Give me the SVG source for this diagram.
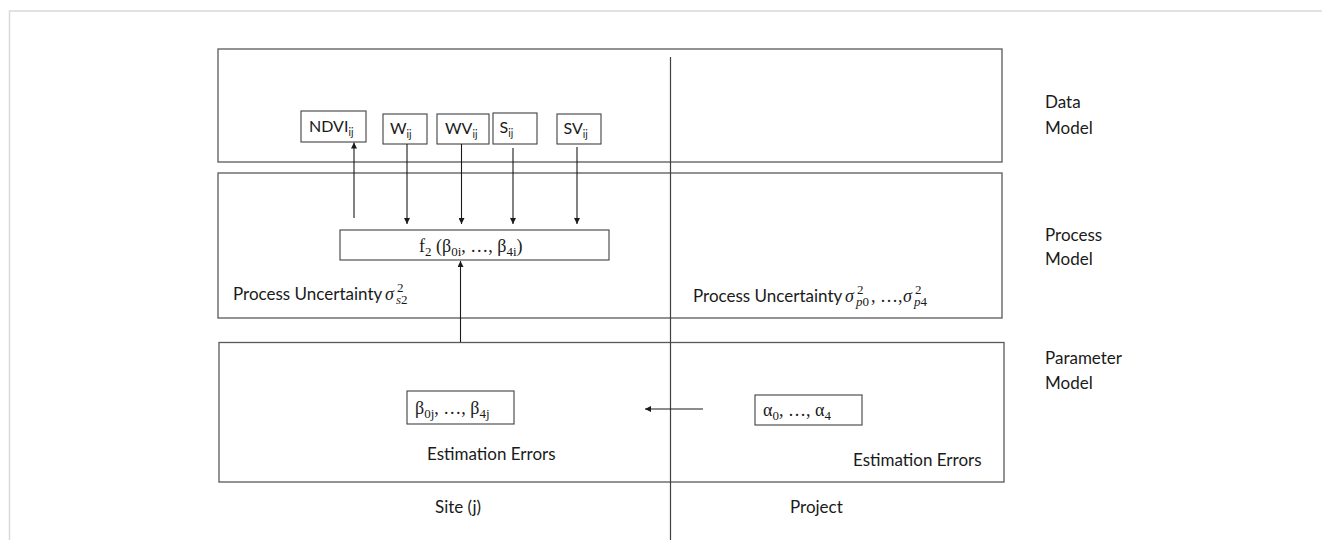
<svg xmlns="http://www.w3.org/2000/svg" width="1322" height="540" viewBox="0 0 1322 540">
  <style>
    .frame { fill: none; stroke: #d9d9d9; stroke-width: 1.5; }
    .panel { fill: none; stroke: #595959; stroke-width: 1.3; }
    .box { fill: #ffffff; stroke: #404040; stroke-width: 1.1; }
    .wire { fill: none; stroke: #1a1a1a; stroke-width: 1.1; }
    .lbl { font-family: Lato, "Open Sans", sans-serif; font-size: 17px; fill: #1a1a1a; }
    .node { font-family: Lato, "Open Sans", sans-serif; font-size: 16px; fill: #1a1a1a; }
    .math { font-family: "Liberation Serif", "DejaVu Serif", serif; font-size: 18px; fill: #1a1a1a; }
    .it { font-style: italic; }
    .up { font-style: normal; }
    .sm { font-size: 13px; }
  </style>
  <defs>
    <marker id="arrow" viewBox="0 0 8 8" refX="8" refY="4" markerWidth="6" markerHeight="6" markerUnits="userSpaceOnUse" orient="auto">
      <path d="M0,0 L8,4 L0,8 z" fill="#1a1a1a"/>
    </marker>
  </defs>

  <rect width="1322" height="540" fill="#ffffff"/>
  <!-- page frame -->
  <path class="frame" d="M9.5,540 V11 H1322"/>

  <!-- layer panels -->
  <g id="data-model">
    <rect class="panel" x="218" y="49" width="784" height="113"/>
  </g>
  <g id="process-model">
    <rect class="panel" x="218" y="173" width="784" height="145"/>
  </g>
  <g id="parameter-model">
    <rect class="panel" x="219" y="342.5" width="785" height="139.5"/>
  </g>

  <!-- site / project divider -->
  <line x1="670.5" y1="57" x2="670.5" y2="540" stroke="#404040" stroke-width="1.2"/>

  <!-- data nodes -->
  <g id="ndvi">
    <rect class="box" x="301" y="111" width="65" height="31"/>
    <text class="node" x="309" y="132">NDVI<tspan font-size="10.5" dy="4">ij</tspan></text>
  </g>
  <g id="w">
    <rect class="box" x="383" y="114" width="44" height="30"/>
    <text class="node" x="390" y="134">W<tspan font-size="10.5" dy="4">ij</tspan></text>
  </g>
  <g id="wv">
    <rect class="box" x="437" y="114" width="52" height="30"/>
    <text class="node" x="445" y="134">WV<tspan font-size="10.5" dy="4">ij</tspan></text>
  </g>
  <g id="s">
    <rect class="box" x="493" y="113" width="44" height="31"/>
    <text class="node" x="499.5" y="133">S<tspan font-size="10.5" dy="4">ij</tspan></text>
  </g>
  <g id="sv">
    <rect class="box" x="557" y="114" width="44" height="30"/>
    <text class="node" x="563.5" y="134">SV<tspan font-size="10.5" dy="4">ij</tspan></text>
  </g>

  <!-- process function -->
  <g id="f2">
    <rect class="box" x="340" y="230" width="269" height="30"/>
    <text class="math" x="419" y="252">f<tspan class="sm" dy="4">2</tspan><tspan dy="-4"> (β</tspan><tspan class="sm" dy="4">0i</tspan><tspan dy="-4">, …, β</tspan><tspan class="sm" dy="4">4i</tspan><tspan dy="-4">)</tspan></text>
  </g>

  <!-- process variances: sigma with stacked sub- and superscript -->
  <g id="site-process-uncertainty">
    <text class="lbl" x="233" y="300">Process Uncertainty</text>
    <text class="math it" x="385" y="300">σ<tspan class="sm" x="396" dy="4">s</tspan><tspan class="sm up">2</tspan><tspan class="sm up" x="397" dy="-12">2</tspan></text>
  </g>
  <g id="project-process-uncertainty">
    <text class="lbl" x="693" y="302">Process Uncertainty</text>
    <text class="math it" x="845" y="302">σ<tspan class="sm" x="856" dy="4">p</tspan><tspan class="sm up">0</tspan><tspan class="sm up" x="857" dy="-12">2</tspan><tspan class="up" x="871" dy="8">, …,</tspan><tspan x="903">σ</tspan><tspan class="sm" x="914" dy="4">p</tspan><tspan class="sm up">4</tspan><tspan class="sm up" x="915" dy="-12">2</tspan></text>
  </g>

  <!-- parameter nodes -->
  <g id="beta-j">
    <rect class="box" x="407" y="391" width="107" height="33"/>
    <text class="math" x="415" y="414">β<tspan class="sm" dy="4">0j</tspan><tspan dy="-4">, …, β</tspan><tspan class="sm" dy="4">4j</tspan></text>
  </g>
  <g id="alpha">
    <rect class="box" x="755" y="395" width="107" height="30"/>
    <text class="math" x="763" y="416">α<tspan class="sm" dy="4">0</tspan><tspan dy="-4">, …, α</tspan><tspan class="sm" dy="4">4</tspan></text>
  </g>

  <g id="site-estimation-errors">
    <text class="lbl" x="427" y="460">Estimation Errors</text>
  </g>
  <g id="project-estimation-errors">
    <text class="lbl" x="853" y="466">Estimation Errors</text>
  </g>

  <!-- layer captions -->
  <g id="captions">
    <text class="lbl" x="1045" y="108">Data</text>
    <text class="lbl" x="1045" y="134">Model</text>
    <text class="lbl" x="1045" y="241">Process</text>
    <text class="lbl" x="1045" y="265">Model</text>
    <text class="lbl" x="1045" y="364">Parameter</text>
    <text class="lbl" x="1045" y="389">Model</text>
    <text class="lbl" x="435" y="513">Site (j)</text>
    <text class="lbl" x="790" y="513">Project</text>
  </g>

  <!-- connectors -->
  <g id="connectors">
    <line class="wire" x1="354" y1="218" x2="354" y2="142.5" marker-end="url(#arrow)"/>
    <line class="wire" x1="407" y1="144" x2="407" y2="224" marker-end="url(#arrow)"/>
    <line class="wire" x1="461.5" y1="144" x2="461.5" y2="224" marker-end="url(#arrow)"/>
    <line class="wire" x1="513" y1="148" x2="513" y2="224" marker-end="url(#arrow)"/>
    <line class="wire" x1="577" y1="147" x2="577" y2="224" marker-end="url(#arrow)"/>
    <line class="wire" x1="460.5" y1="342" x2="460.5" y2="261" marker-end="url(#arrow)"/>
    <line class="wire" x1="703" y1="409" x2="645" y2="409" marker-end="url(#arrow)"/>
  </g>
</svg>
